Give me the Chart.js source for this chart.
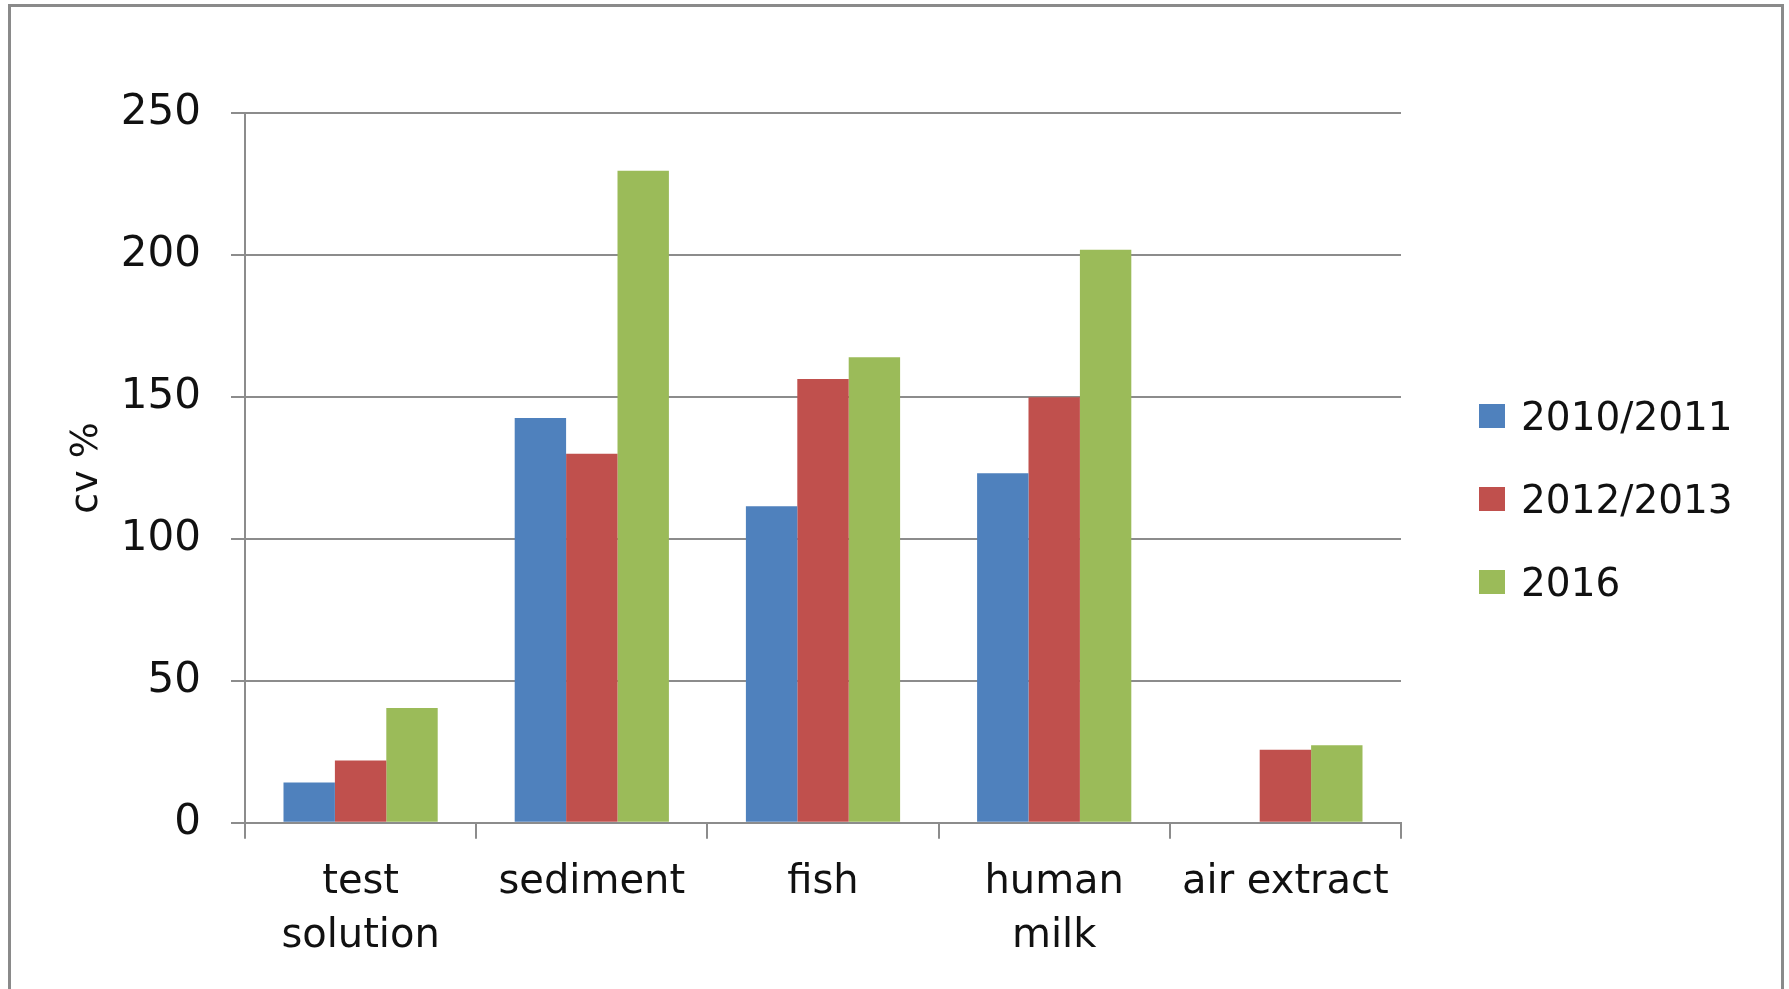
<!DOCTYPE html>
<html>
<head>
<meta charset="utf-8">
<script src="https://cdn.jsdelivr.net/npm/chart.js@4/dist/chart.umd.min.js"></script>
<style>
  html, body { margin: 0; padding: 0; background: #fff; overflow: hidden; }
  #frame {
    position: absolute; left: 8px; top: 4px; width: 1776px; height: 1000px;
    border: 3px solid #8a8a8a; box-sizing: border-box;
  }
  #wrap { position: absolute; left: 0; top: 0; width: 1789px; height: 989px; }
  #legend {
    position: absolute; left: 1479px; top: 392px;
    font-family: "DejaVu Sans", sans-serif; font-size: 39px; color: #111;
  }
  .item { display: flex; align-items: center; height: 48px; margin-bottom: 35px; }
  .box { width: 26px; height: 24px; margin-right: 16px; }
</style>
</head>
<body>
<div id="frame"></div>
<div id="wrap"><canvas id="barChart" width="1789" height="989"></canvas></div>
<div id="legend"></div>
<script>
const categories = [["test", "solution"], "sediment", "fish", ["human", "milk"], "air extract"];
const seriesNames = ["2010/2011", "2012/2013", "2016"];
const colors = ["#4F81BD", "#C0504D", "#9BBB59"];

const values2010 = [14.2, 142.6, 111.5, 123.1, null];
const values2012 = [21.9, 130.0, 156.3, 149.9, 25.7];
const values2016 = [40.4, 229.7, 164.0, 201.8, 27.3];

const yTicks = [0, 50, 100, 150, 200, 250];

const gridColor = "#8c8c8c";
const font = "DejaVu Sans";

const ctx = document.getElementById("barChart");

new Chart(ctx, {
  type: "bar",
  data: {
    labels: categories,
    datasets: [values2010, values2012, values2016].map((vals, i) => ({
      label: seriesNames[i],
      data: vals,
      backgroundColor: colors[i],
      borderWidth: 0,
      categoryPercentage: 0.667,
      barPercentage: 1.0,
    })),
  },
  options: {
    responsive: false,
    animation: false,
    layout: { padding: { top: 113, right: 388, bottom: 9, left: 60 } },
    plugins: {
      legend: { display: false },
      tooltip: { enabled: false },
    },
    scales: {
      x: {
        grid: {
          offset: true,
          drawOnChartArea: false,
          color: gridColor,
          lineWidth: 2,
          tickLength: 16,
        },
        border: { color: gridColor, width: 2 },
        ticks: {
          color: "#111",
          padding: 17,
          maxRotation: 0,
          font: { family: font, size: 40, lineHeight: 1.34 },
        },
      },
      y: {
        min: 0,
        max: 250,
        afterBuildTicks: (scale) => {
          scale.ticks = yTicks.map((v) => ({ value: v }));
        },
        afterFit: (scale) => {
          scale.width = 185;
        },
        grid: { color: gridColor, lineWidth: 2, tickLength: 14 },
        border: { color: gridColor, width: 2 },
        ticks: {
          color: "#111",
          padding: 30,
          font: { family: font, size: 42 },
        },
        title: {
          display: true,
          text: "cv %",
          color: "#111",
          padding: { top: 4, bottom: 4 },
          font: { family: font, size: 38 },
        },
      },
    },
  },
});

const legend = document.getElementById("legend");
seriesNames.forEach((name, i) => {
  const row = document.createElement("div");
  row.className = "item";
  row.innerHTML = '<span class="box" style="background:' + colors[i] + '"></span><span>' + name + "</span>";
  legend.appendChild(row);
});
</script>
</body>
</html>
